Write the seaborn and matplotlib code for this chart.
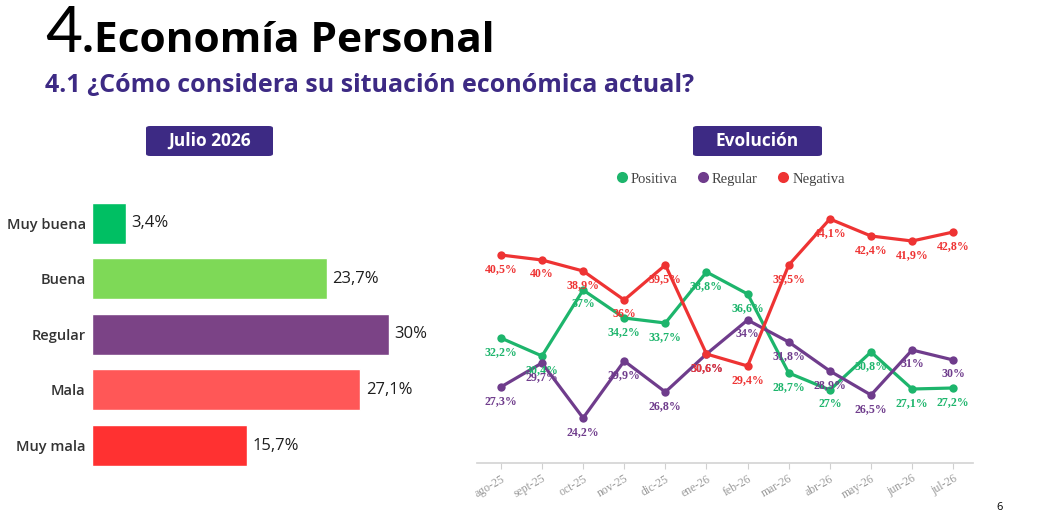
import pandas as pd
import numpy as np
import matplotlib.pyplot as plt
import seaborn as sns
from matplotlib.patches import FancyBboxPatch
from matplotlib.lines import Line2D

# datos - Julio 2026
categorias = ["Muy buena", "Buena", "Regular", "Mala", "Muy mala"]
valores_julio = [3.4, 23.7, 30, 27.1, 15.7]
colores_barras = ["#00BF63", "#7ED957", "#7B4386", "#FF5757", "#FF3131"]

# datos - evolucion
meses = ["ago-25", "sept-25", "oct-25", "nov-25", "dic-25", "ene-26",
         "feb-26", "mar-26", "abr-26", "may-26", "jun-26", "jul-26"]
positiva = [32.2, 30.4, 37, 34.2, 33.7, 38.8, 36.6, 28.7, 27, 30.8, 27.1, 27.2]
regular = [27.3, 29.7, 24.2, 29.9, 26.8, 30.6, 34, 31.8, 28.9, 26.5, 31, 30]
negativa = [40.5, 40, 38.9, 36, 39.5, 30.6, 29.4, 39.5, 44.1, 42.4, 41.9, 42.8]
series = ["Positiva", "Regular", "Negativa"]
colores_lineas = {"Positiva": "#1DB56C", "Regular": "#6F3C8C", "Negativa": "#EE3333"}

morado = "#3D2A84"
serif = ["Liberation Serif", "DejaVu Serif"]


def fmt(v):
    s = ("%.1f" % v).rstrip("0").rstrip(".")
    return s.replace(".", ",") + "%"


sns.set_theme(style="white")
plt.rcParams['font.family'] = ['Open Sans', 'DejaVu Sans']

fig = plt.figure(figsize=(10.56, 5.32), dpi=100)
W, H = 1056, 532


def fx(px):
    return px / W


def fy(py):
    return 1 - py / H


# titulos
t4 = fig.text(fx(45), fy(52), "4", fontsize=46, fontweight="normal", family=["Lato", "DejaVu Sans"],
              color="black", ha="left", va="baseline")
r = fig.canvas.get_renderer()
x_fin = fig.transFigure.inverted().transform(t4.get_window_extent(r))[1][0]
fig.text(x_fin, fy(52), ".Economía Personal", fontsize=30.5, fontweight="bold",
         color="black", ha="left", va="baseline")
fig.text(fx(45), fy(92), "4.1 ¿Cómo considera su situación económica actual?", fontsize=18,
         fontweight="bold", color=morado, ha="left", va="baseline")
fig.text(fx(1000), fy(508), "6", fontsize=8, color="black", ha="center", va="center")

# cajas de encabezado
for x0, x1, txt in [(146, 273, "Julio 2026"), (693, 822, "Evolución")]:
    box = FancyBboxPatch((fx(x0), fy(156)), fx(x1 - x0), (156 - 126) / H,
                         boxstyle="round,pad=0,rounding_size=0.004",
                         transform=fig.transFigure, fc=morado, ec="none")
    fig.patches.append(box)
    fig.text(fx((x0 + x1) / 2), fy(141), txt, fontsize=12.5, fontweight="bold",
             color="white", ha="center", va="center")

# barras
ax1 = fig.add_axes([fx(92), fy(473.3), fx(348), 278 / H])
df_bar = pd.DataFrame({"categoria": categorias, "valor": valores_julio})
sns.barplot(data=df_bar, x="valor", y="categoria", hue="categoria", palette=colores_barras,
            saturation=1, legend=False, width=0.74, orient="h", ax=ax1)
ax1.set_xlim(0, 35.15)
ax1.set_ylim(4.5, -0.5)
for cont in ax1.containers:
    ax1.bar_label(cont, labels=[fmt(v) for v in cont.datavalues], padding=4,
                  fontsize=12, fontweight="medium", color="#1E1E1E")
ax1.set_xlabel("")
ax1.set_ylabel("")
ax1.set_xticks([])
ax1.tick_params(axis="y", length=0, pad=4.5, labelsize=10.5, labelcolor="#333333")
for lab in ax1.get_yticklabels():
    lab.set_fontweight("semibold")
sns.despine(ax=ax1, left=True, bottom=True)

# lineas
ax2 = fig.add_axes([fx(477), fy(463), fx(496), 268 / H])
df_lin = pd.DataFrame({
    "pos": list(range(len(meses))) * 3,
    "valor": positiva + regular + negativa,
    "serie": [s for s in series for _ in meses],
})
sns.lineplot(data=df_lin, x="pos", y="valor", hue="serie", hue_order=series,
             palette=colores_lineas, marker="o", markersize=6, markeredgewidth=0,
             linewidth=2.3, legend=False, ax=ax2)
for s, vals in zip(series, [positiva, regular, negativa]):
    for i, v in enumerate(vals):
        ax2.annotate(fmt(v), (i, v), xytext=(0, -10), textcoords="offset points",
                     ha="center", va="center", fontsize=8.6, fontweight="bold",
                     family=serif, color=colores_lineas[s])
ax2.set_xlim(-0.58, 11.48)
ax2.set_ylim(19.7, 46.5)
ax2.set_xticks(range(len(meses)))
ax2.set_xticklabels(meses, rotation=30, ha="right", rotation_mode="anchor",
                    family=serif, fontsize=8.5, color="#9A9A9A")
ax2.set_yticks([])
ax2.set_xlabel("")
ax2.set_ylabel("")
ax2.tick_params(axis="x", bottom=True, length=4, width=0.8, color="#D0D0D0", pad=3)
sns.despine(ax=ax2, left=True)
ax2.spines["bottom"].set_color("#D5D5D5")

handles = [Line2D([], [], marker="o", linestyle="none", markersize=8, markeredgewidth=0,
                  color=colores_lineas[s]) for s in series]
ax2.legend(handles, series, loc="center", bbox_to_anchor=(0.512, 1.06), ncol=3,
           frameon=False, handlelength=0.7, handletextpad=0.25, columnspacing=1.4,
           prop={"family": serif, "size": 10.5}, labelcolor="#444444")

fig.savefig("out.png", dpi=100)
